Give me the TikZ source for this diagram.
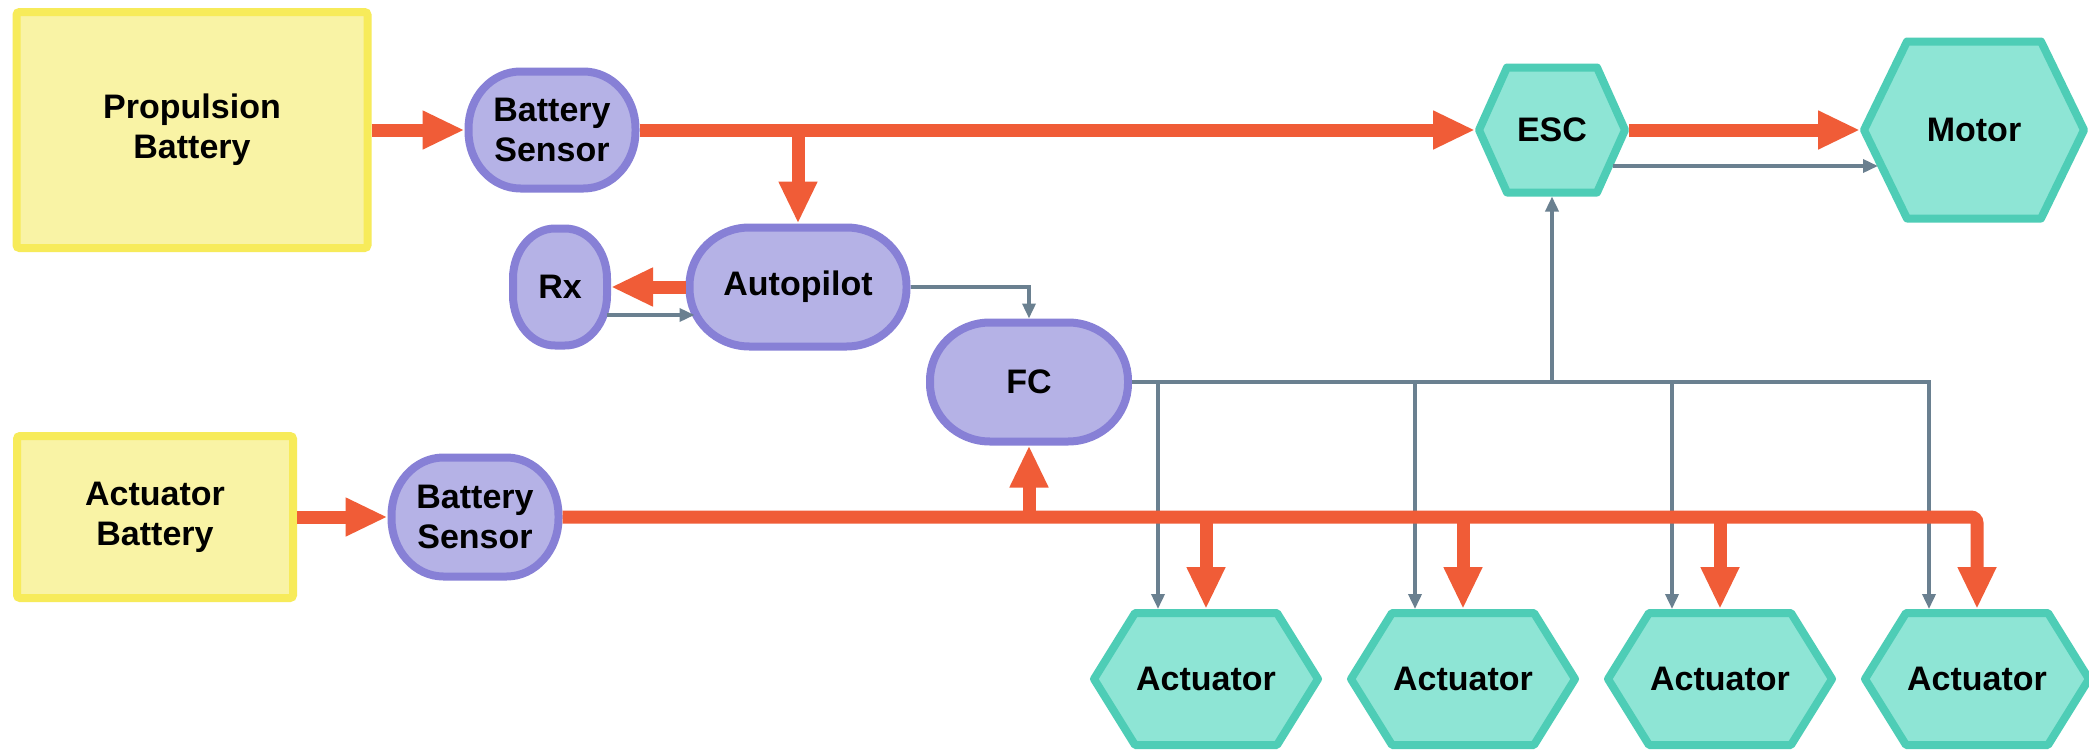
\documentclass[tikz,border=0pt]{standalone}
\usepackage{fontspec}
\setmainfont{Liberation Sans}
\usetikzlibrary{arrows.meta,calc,backgrounds}

\definecolor{battfill}{HTML}{F9F3A5}
\definecolor{battline}{HTML}{F7EB5A}
\definecolor{unitfill}{HTML}{B5B2E6}
\definecolor{unitline}{HTML}{8780D6}
\definecolor{hexfill}{HTML}{8EE5D5}
\definecolor{hexline}{HTML}{4ECDB6}
\definecolor{pwr}{HTML}{F05C37}
\definecolor{sigc}{HTML}{6A8090}

% hexagonal outline around a borderless node: name, corner inset
\newcommand\hexoutline[2]{%
  \draw[hexstroke] ([xshift=#2]#1.north west) -- ([xshift=-#2]#1.north east)
    -- (#1.east) -- ([xshift=-#2]#1.south east) -- ([xshift=#2]#1.south west)
    -- (#1.west) -- cycle;}

% rounded outline with elliptical corners: name, x radius, y radius
% (the node carries a 4pt outer sep, so the stroke is drawn 4pt inside its anchors)
\newcommand\pillout[3]{%
  \draw[pillstroke]
    ([shift={(#2+4pt,-4pt)}]#1.north west) -- ([shift={(-#2-4pt,-4pt)}]#1.north east)
    arc[start angle=90,end angle=0,x radius=#2,y radius=#3]
    -- ([shift={(-4pt,#3+4pt)}]#1.south east)
    arc[start angle=0,end angle=-90,x radius=#2,y radius=#3]
    -- ([shift={(#2+4pt,4pt)}]#1.south west)
    arc[start angle=270,end angle=180,x radius=#2,y radius=#3]
    -- ([shift={(4pt,-#3-4pt)}]#1.north west)
    arc[start angle=180,end angle=90,x radius=#2,y radius=#3]
    -- cycle;}

\begin{document}
\begin{tikzpicture}[x=1pt,y=-1pt,
  lbl/.style={font=\fontsize{34}{40}\selectfont\bfseries, align=center,
    text=black, inner sep=0pt},
  battery/.style={lbl, draw=battline, fill=battfill, line width=8pt,
    rounded corners=3pt},
  unit/.style={lbl, outer sep=4pt},
  hexnode/.style={lbl, outer sep=0pt},
  pillstroke/.style={draw=unitline, fill=unitfill, line width=8pt},
  hexstroke/.style={draw=hexline, fill=hexfill, line width=8pt, line join=round},
  power/.style={draw=pwr, line width=13pt, -{Triangle[length=42pt,width=36pt]}},
  sig/.style={draw=sigc, line width=3.5pt, -{Triangle[length=15pt,width=13pt]}}]

\useasboundingbox (0,0) rectangle (2089,750);

% batteries
\node[battery, minimum width=351pt, minimum height=236pt] (pb) at (192,130) {Propulsion\\Battery};
\node[battery, minimum width=276pt, minimum height=162pt] (ab) at (155,517) {Actuator\\Battery};

% sensors and controllers
\node[unit, minimum width=167pt, minimum height=117pt] (bs1) at (552,130) {Battery\\Sensor};
\node[unit, minimum width=94pt, minimum height=117pt] (rx) at (560,287) {Rx};
\node[unit, minimum width=217pt, minimum height=119pt] (ap) at (798,287) {Autopilot};
\node[unit, minimum width=198pt, minimum height=119pt] (fc) at (1029,382) {FC};
\node[unit, minimum width=167pt, minimum height=119pt] (bs2) at (475,517) {Battery\\Sensor};

% outputs
\node[hexnode, minimum width=146pt, minimum height=125pt] (esc) at (1552,130) {ESC};
\node[hexnode, minimum width=220pt, minimum height=177pt] (motor) at (1974,130) {Motor};
\foreach \i/\x in {1/1206,2/1463,3/1720,4/1977}
  \node[hexnode, minimum width=224pt, minimum height=132pt] (act\i) at (\x,679) {Actuator};

\begin{pgfonlayer}{background}
  \fill[white] (0,0) rectangle (2089,750);
  \pillout{bs1}{52pt}{57pt}
  \pillout{rx}{42pt}{50pt}
  \pillout{ap}{60pt}{58pt}
  \pillout{fc}{60pt}{58pt}
  \pillout{bs2}{52pt}{58pt}
  \hexoutline{esc}{28pt}
  \hexoutline{motor}{43pt}
  \foreach \i in {1,...,4} {\hexoutline{act\i}{41pt}}
\end{pgfonlayer}

% signal lines
\draw[sig] ($(rx.east)+(-4,28)$) -- ($(ap.west)+(9,28)$);
\draw[sig] (ap.east) -| (fc.north);
\draw[sig] ($(esc.east)+(-12,36)$) -- ($(motor.west)+(14,36)$);
\foreach \i in {1,...,4} {\coordinate (g\i) at ([xshift=-48pt]act\i.north);}
\draw[sig, shorten >=4pt] (fc.east) -| (g4);
\foreach \i in {1,2,3} {\draw[sig, shorten >=4pt] (g\i |- fc.east) -- (g\i);}
\draw[sig, shorten >=4pt] (esc.south |- fc.east) -- (esc.south);

% power lines
\draw[power] (pb.east) -- (bs1.west);
\draw[power, shorten >=4pt] (bs1.east) -- (esc.west);
\draw[power] (ap.north |- bs1.east) -- (ap.north);
\draw[power] (ap.west) -- (rx.east);
\draw[power, shorten <=4pt, shorten >=4pt] (esc.east) -- (motor.west);
\draw[power] (ab.east) -- (bs2.west);
\draw[power, rounded corners=6pt, shorten >=4pt] (bs2.east) -| (act4.north);
\foreach \i in {1,2,3} {\draw[power, shorten >=4pt] (act\i.north |- bs2.east) -- (act\i.north);}
\draw[power] (fc.south |- bs2.east) -- (fc.south);
\end{tikzpicture}
\end{document}
